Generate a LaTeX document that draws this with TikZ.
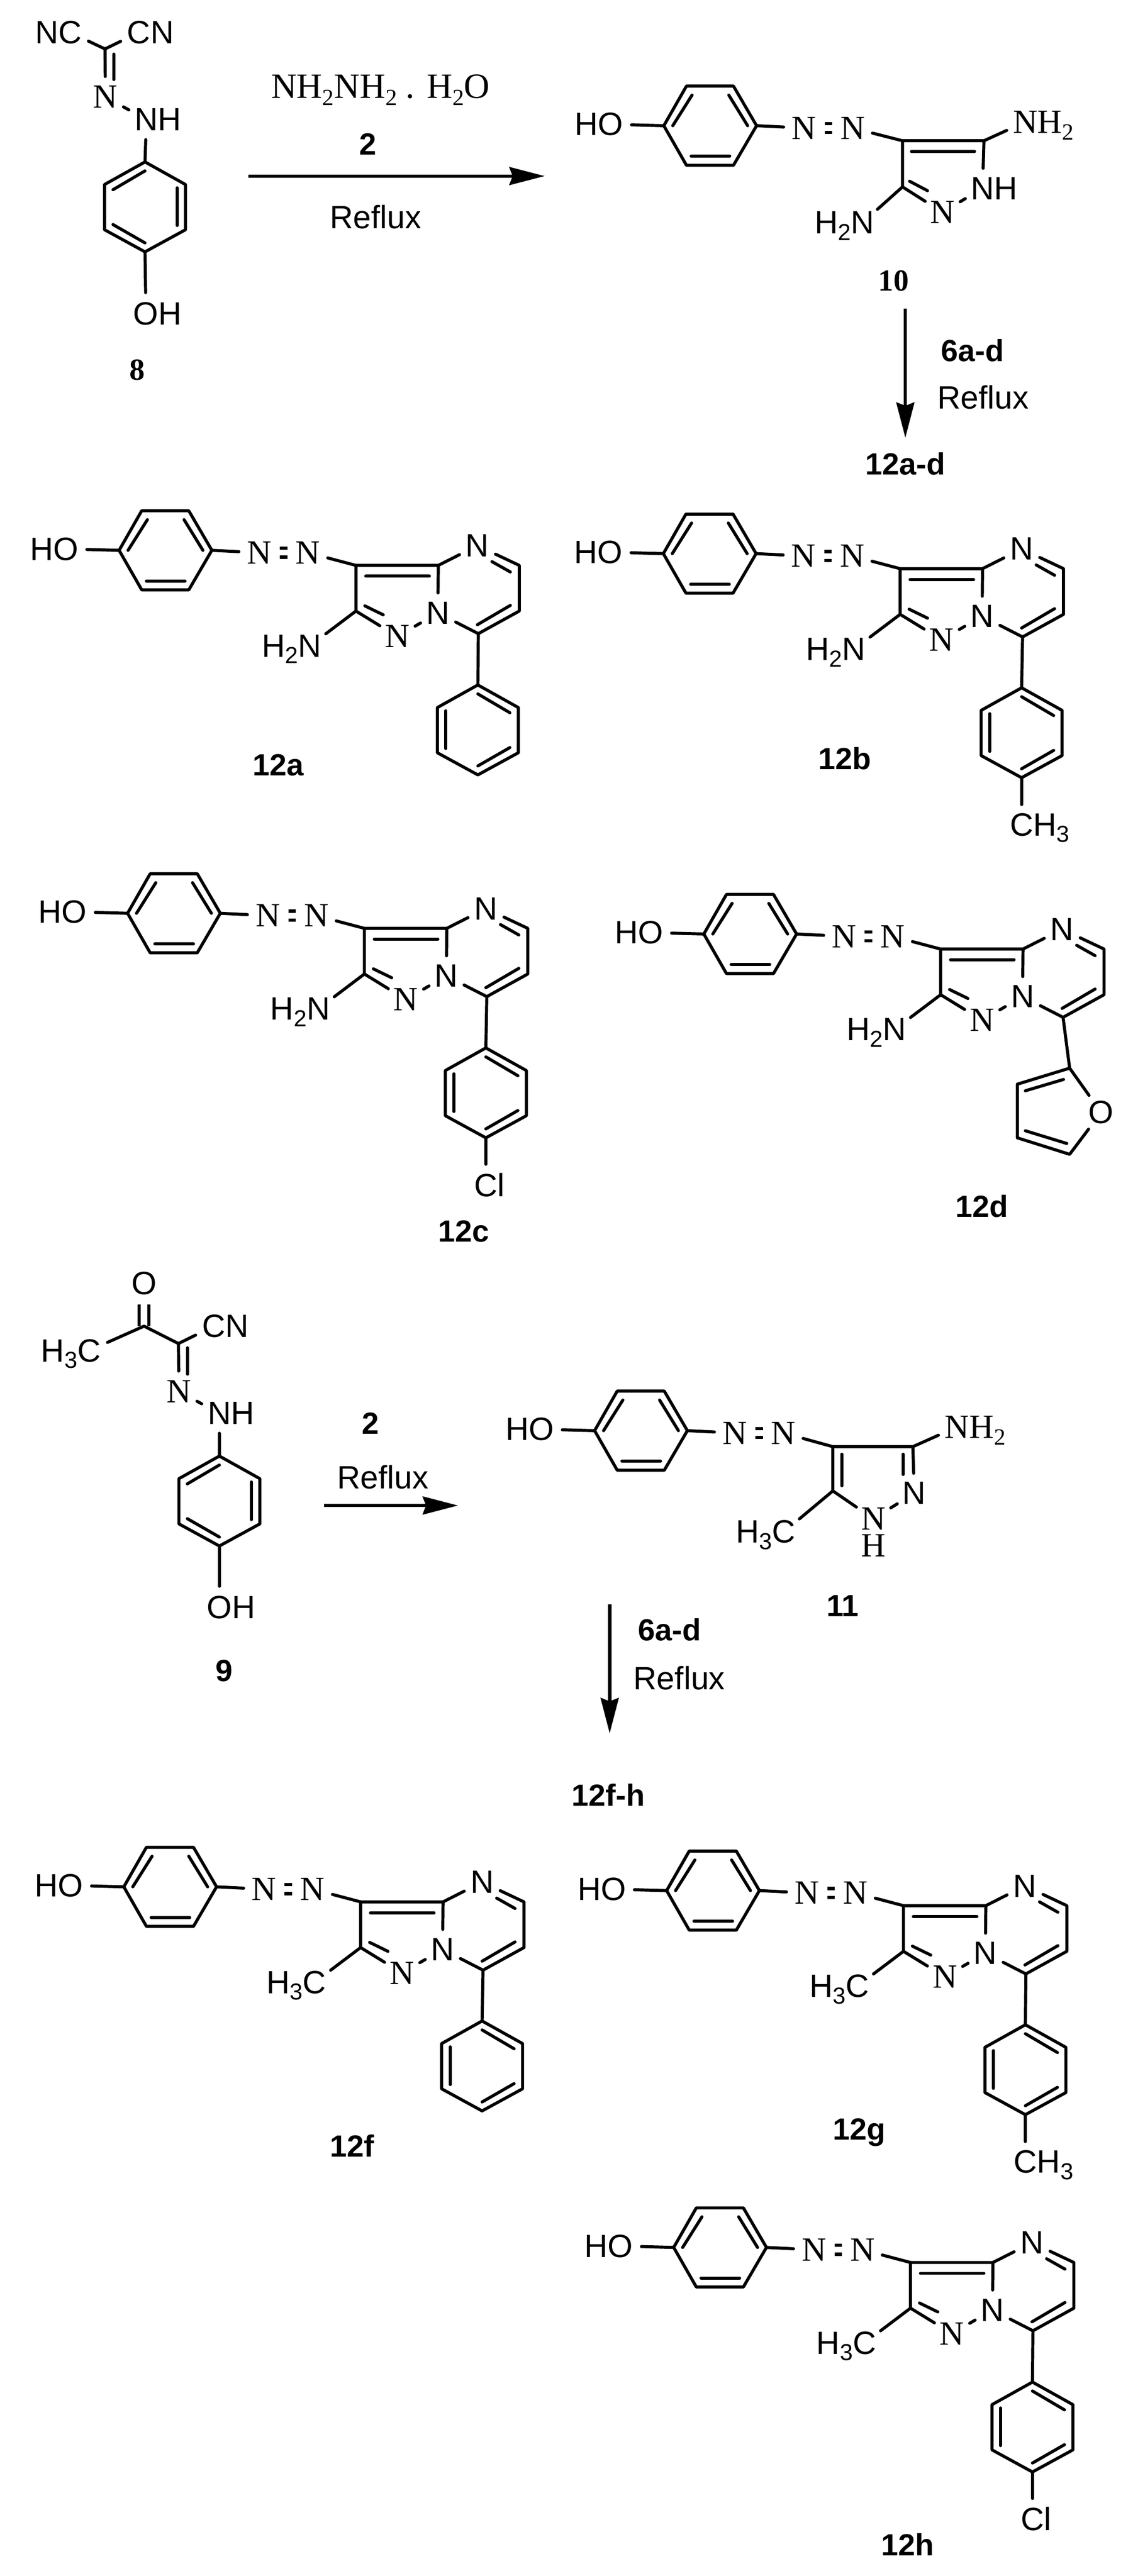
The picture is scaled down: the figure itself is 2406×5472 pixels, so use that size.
\documentclass[tikz,border=0pt]{standalone}
\usepackage{fontspec}
\setmainfont{Liberation Sans}
\newfontfamily\timesfont{Liberation Serif}
\usetikzlibrary{arrows.meta}
\newcommand{\chemsub}[1]{\smash{\raisebox{-.2em}{\fontsize{14}{14}\selectfont #1}}}
\tikzset{
	bond/.style={line width=.065cm, line cap=round, line join=round},
	dbond/.style={line width=.065cm, line cap=butt, double, double distance=.135cm},
	azobond/.style={line width=.07cm, line cap=butt, double, double distance=.12cm},
	rarrow/.style={line width=.07cm, -{Stealth[length=.75cm, width=.38cm, inset=.07cm]}},
	atom/.style={circle, inner sep=.06cm, outer sep=0pt, font=\fontsize{19.5}{22}\selectfont},
	satom/.style={atom, font=\timesfont\fontsize{20.5}{22}\selectfont},
	reagent/.style={font=\fontsize{19.5}{22}\selectfont},
	cmpd/.style={font=\bfseries\fontsize{18.5}{22}\selectfont},
	scmpd/.style={font=\timesfont\bfseries\fontsize{18.5}{22}\selectfont}
}
% HO-C6H4-N=N part, anchored at the left corner of its ring
\newcommand{\phenolazo}[3]{
	\begin{scope}[shift={(#2,#3)}]
		\coordinate (#1l) at (0,0);
		\coordinate (#1tl) at (48,-84);
		\coordinate (#1tr) at (148,-84);
		\coordinate (#1r) at (197,0);
		\coordinate (#1br) at (148,84);
		\coordinate (#1bl) at (48,84);
		\draw[bond] (#1l) -- (#1tl) -- (#1tr) -- (#1r) -- (#1br) -- (#1bl) -- cycle;
		% inner lines of the ring
		\draw[bond] (19,0) -- (60,-65);
		\draw[bond] (178,0) -- (138,-65);
		\draw[bond] (58,65) -- (140,65);
		\node[atom] (#1oh) at (-113,-3) {\llap{H}O};
		\node[satom] (#1na) at (298,5) {N};
		\node[satom] (#1nb) at (401,5) {N};
		\draw[bond] (#1oh) -- (#1l);
		\draw[bond] (#1r) -- (#1na);
		\draw[azobond] (#1na) -- (#1nb);
	\end{scope}
}
% pyrazolo-pyrimidine with the azo part; #4 is the group on the five-ring
\newcommand{\fusedcore}[4]{
	\phenolazo{#1}{#2}{#3}
	\begin{scope}[shift={(#2,#3)}]
		\coordinate (#1ca) at (503,32);
		\coordinate (#1cb) at (678,32);
		\coordinate (#1cc) at (503,129);
		\coordinate (#1cd) at (850,32);
		\coordinate (#1ce) at (850,129);
		\coordinate (#1cf) at (763,177);
		\node[satom] (#1ns) at (591,183) {N};
		\node[atom] (#1nm) at (677,133) {N};
		\node[atom] (#1nt) at (761,-10) {N};
		\node[atom] (#1sub) at (405,203) {#4};
		\draw[bond] (#1nb) -- (#1ca);
		\draw[bond] (#1cc) -- (#1ca) -- (#1cb) -- (#1nm);
		\draw[bond] (#1cb) -- (#1nt);
		\draw[bond] (#1nt) -- (#1cd) -- (#1ce) -- (#1cf) -- (#1nm);
		\draw[bond] (#1nm) -- (#1ns) -- (#1cc);
		\draw[bond] (#1cc) -- (#1sub);
		% inner lines of the two rings
		\draw[bond] (524,55) -- (659,55);
		\draw[bond] (522,118) -- (561,137);
		\draw[bond] (792,24) -- (831,46);
		\draw[bond] (831,117) -- (761,158);
	\end{scope}
}
% six-ring hanging from its top corner; #4 is 1 or -1 (side of the inner lines)
\newcommand{\arylring}[4]{
	\begin{scope}[shift={(#2,#3)}, xscale=#4]
		\coordinate (#1pa) at (0,0);
		\coordinate (#1pb) at (86,48);
		\coordinate (#1pc) at (86,144);
		\coordinate (#1pd) at (0,191);
		\coordinate (#1pe) at (-86,144);
		\coordinate (#1pf) at (-86,48);
		\draw[bond] (#1pa) -- (#1pb) -- (#1pc) -- (#1pd) -- (#1pe) -- (#1pf) -- cycle;
		\draw[bond] (0,19) -- (68,59);
		\draw[bond] (-68,55) -- (-68,135);
		\draw[bond] (0,172) -- (68,133);
	\end{scope}
}
\begin{document}
\begin{tikzpicture}[x=.01cm, y=-.01cm]
	\useasboundingbox (0,0) rectangle (2406,5472);

	% compound 8
	\coordinate (hc) at (223,104);
	\node[atom] (hnc) at (149,69) {\llap{N}C};
	\node[atom] (hcn) at (295,69) {C\rlap{N}};
	\node[satom] (hn) at (224,206) {N};
	\node[atom] (hnh) at (311,254) {N\rlap{H}};
	\arylring{h}{308}{344}{-1}
	\node[atom] (hoh) at (310,666) {O\rlap{H}};
	\draw[bond] (hnc) -- (hc) -- (hcn);
	\draw[bond] (hc) -- (hn) -- (hnh) -- (hpa);
	\draw[bond] (242,115) -- (242,169);
	\draw[bond] (hpd) -- (hoh);
	\node[scmpd] (lab8) at (292,786) {8};

	% first reaction arrow
	\node[font=\timesfont\fontsize{21.5}{22}\selectfont] (hydrazine) at (808,184) {NH\chemsub{2}NH\chemsub{2} . H\chemsub{2}O};
	\node[cmpd] (labtwo) at (781,306) {2};
	\coordinate (ara) at (528,374);
	\coordinate (arb) at (1157,374);
	\draw[rarrow] (ara) -- (arb);
	\node[reagent] (refa) at (798,461) {Reflux};

	% compound 10
	\phenolazo{j}{1410}{267}
	\begin{scope}[shift={(1410,267)}]
		\coordinate (jca) at (507,32);
		\coordinate (jcb) at (680,32);
		\coordinate (jcc) at (507,130);
		\node[satom] (jnn) at (768,-8) {N\rlap{H\chemsub{2}}};
		\node[atom] (jnh) at (677,133) {N\rlap{H}};
		\node[satom] (jns) at (592,184) {N};
		\node[atom] (jhn) at (422,206) {\llap{H\chemsub{2}}N};
		\draw[bond] (jnb) -- (jca) -- (jcb) -- (jnn);
		\draw[bond] (jca) -- (jcc) -- (jns) -- (jnh) -- (jcb);
		\draw[bond] (jcc) -- (jhn);
		\draw[bond] (526,55) -- (660,55);
		\draw[bond] (522,118) -- (560,138);
	\end{scope}
	\node[scmpd] (lab10) at (1898,597) {10};

	% arrow to the 12a-d series
	\coordinate (bra) at (1923,656);
	\coordinate (brb) at (1923,930);
	\draw[rarrow] (bra) -- (brb);
	\node[cmpd] (sixa) at (2066,745) {6a-d};
	\node[reagent] (refb) at (2088,844) {Reflux};
	\node[cmpd] (laba) at (1923,985) {12a-d};

	% 12a
	\fusedcore{a}{253}{1169}{\llap{H\chemsub{2}}N}
	\arylring{a}{1015}{1455}{1}
	\draw[bond] (acf) -- (apa);
	\node[cmpd] (lab12a) at (591,1625) {12a};

	% 12b
	\fusedcore{b}{1409}{1176}{\llap{H\chemsub{2}}N}
	\arylring{b}{2170}{1461}{1}
	\draw[bond] (bcf) -- (bpa);
	\node[atom] (bme) at (2170,1752) {C\rlap{H\chemsub{3}}};
	\draw[bond] (bpd) -- (bme);
	\node[cmpd] (lab12b) at (1794,1611) {12b};

	% 12c
	\fusedcore{c}{271}{1940}{\llap{H\chemsub{2}}N}
	\arylring{c}{1032}{2226}{1}
	\draw[bond] (ccf) -- (cpa);
	\node[atom] (ccl) at (1032,2517) {C\rlap{l}};
	\draw[bond] (cpd) -- (ccl);
	\node[cmpd] (lab12c) at (985,2616) {12c};

	% 12d with the furan ring
	\fusedcore{d}{1495}{1984}{\llap{H\chemsub{2}}N}
	\begin{scope}[shift={(1495,1984)}]
		\coordinate (dfa) at (777,285);
		\coordinate (dfb) at (666,319);
		\coordinate (dfc) at (666,433);
		\coordinate (dfd) at (777,468);
		\node[atom] (dfo) at (844,379) {O};
		\draw[bond] (dcf) -- (dfa);
		\draw[bond] (dfo) -- (dfa) -- (dfb) -- (dfc) -- (dfd) -- (dfo);
		\draw[bond] (683,333) -- (764,309);
		\draw[bond] (683,418) -- (771,445);
	\end{scope}
	\node[cmpd] (lab12d) at (2086,2562) {12d};

	% compound 9
	\coordinate (ica) at (306,2817);
	\coordinate (icb) at (379,2854);
	\node[atom] (io) at (306,2726) {O};
	\node[atom] (ime) at (189,2869) {\llap{H\chemsub{3}}C};
	\node[atom] (icn) at (454,2817) {C\rlap{N}};
	\node[satom] (in) at (380,2956) {N};
	\node[atom] (inh) at (466,3002) {N\rlap{H}};
	\arylring{i}{466}{3093}{-1}
	\node[atom] (ioh) at (466,3414) {O\rlap{H}};
	\draw[dbond] (io) -- (ica);
	\draw[bond] (ime) -- (ica) -- (icb) -- (icn);
	\draw[bond] (icb) -- (in) -- (inh) -- (ipa);
	\draw[bond] (398,2863) -- (398,2919);
	\draw[bond] (ipd) -- (ioh);
	\node[cmpd] (lab9) at (476,3549) {9};

	% second reaction arrow
	\node[cmpd] (labtwob) at (787,3023) {2};
	\node[reagent] (refc) at (813,3138) {Reflux};
	\coordinate (cra) at (688,3198);
	\coordinate (crb) at (973,3198);
	\draw[rarrow] (cra) -- (crb);

	% compound 11
	\phenolazo{k}{1263}{3039}
	\begin{scope}[shift={(1263,3039)}]
		\coordinate (kca) at (506,34);
		\coordinate (kcb) at (676,34);
		\coordinate (kcc) at (506,128);
		\node[satom] (knn) at (770,-8) {N\rlap{H\chemsub{2}}};
		\node[atom] (knd) at (679,133) {N};
		% the H stands under the N of the same group
		\node[satom] (kns) at (592,187) {N\llap{\smash{\raisebox{-.57cm}{H}}}};
		\node[atom] (kme) at (402,215) {\llap{H\chemsub{3}}C};
		\draw[bond] (knb) -- (kca) -- (kcb) -- (knn);
		\draw[bond] (kca) -- (kcc) -- (kns) -- (knd) -- (kcb);
		\draw[bond] (kcc) -- (kme);
		\draw[bond] (525,50) -- (525,117);
		\draw[bond] (655,50) -- (655,93);
	\end{scope}
	\node[cmpd] (lab11) at (1790,3411) {11};

	% arrow to the 12f-h series
	\coordinate (dra) at (1295,3408);
	\coordinate (drb) at (1295,3682);
	\draw[rarrow] (dra) -- (drb);
	\node[cmpd] (sixb) at (1422,3462) {6a-d};
	\node[reagent] (refd) at (1443,3564) {Reflux};
	\node[cmpd] (labf) at (1292,3813) {12f-h};

	% 12f
	\fusedcore{f}{263}{4008}{\llap{H\chemsub{3}}C}
	\arylring{f}{1024}{4293}{1}
	\draw[bond] (fcf) -- (fpa);
	\node[cmpd] (lab12f) at (748,4558) {12f};

	% 12g
	\fusedcore{g}{1416}{4016}{\llap{H\chemsub{3}}C}
	\arylring{g}{2178}{4301}{1}
	\draw[bond] (gcf) -- (gpa);
	\node[atom] (gme) at (2178,4592) {C\rlap{H\chemsub{3}}};
	\draw[bond] (gpd) -- (gme);
	\node[cmpd] (lab12g) at (1825,4530) {12g};

	% 12h
	\fusedcore{m}{1431}{4774}{\llap{H\chemsub{3}}C}
	\arylring{m}{2193}{5060}{1}
	\draw[bond] (mcf) -- (mpa);
	\node[atom] (mcl) at (2193,5351) {C\rlap{l}};
	\draw[bond] (mpd) -- (mcl);
	\node[cmpd] (lab12h) at (1928,5405) {12h};
\end{tikzpicture}
\end{document}
